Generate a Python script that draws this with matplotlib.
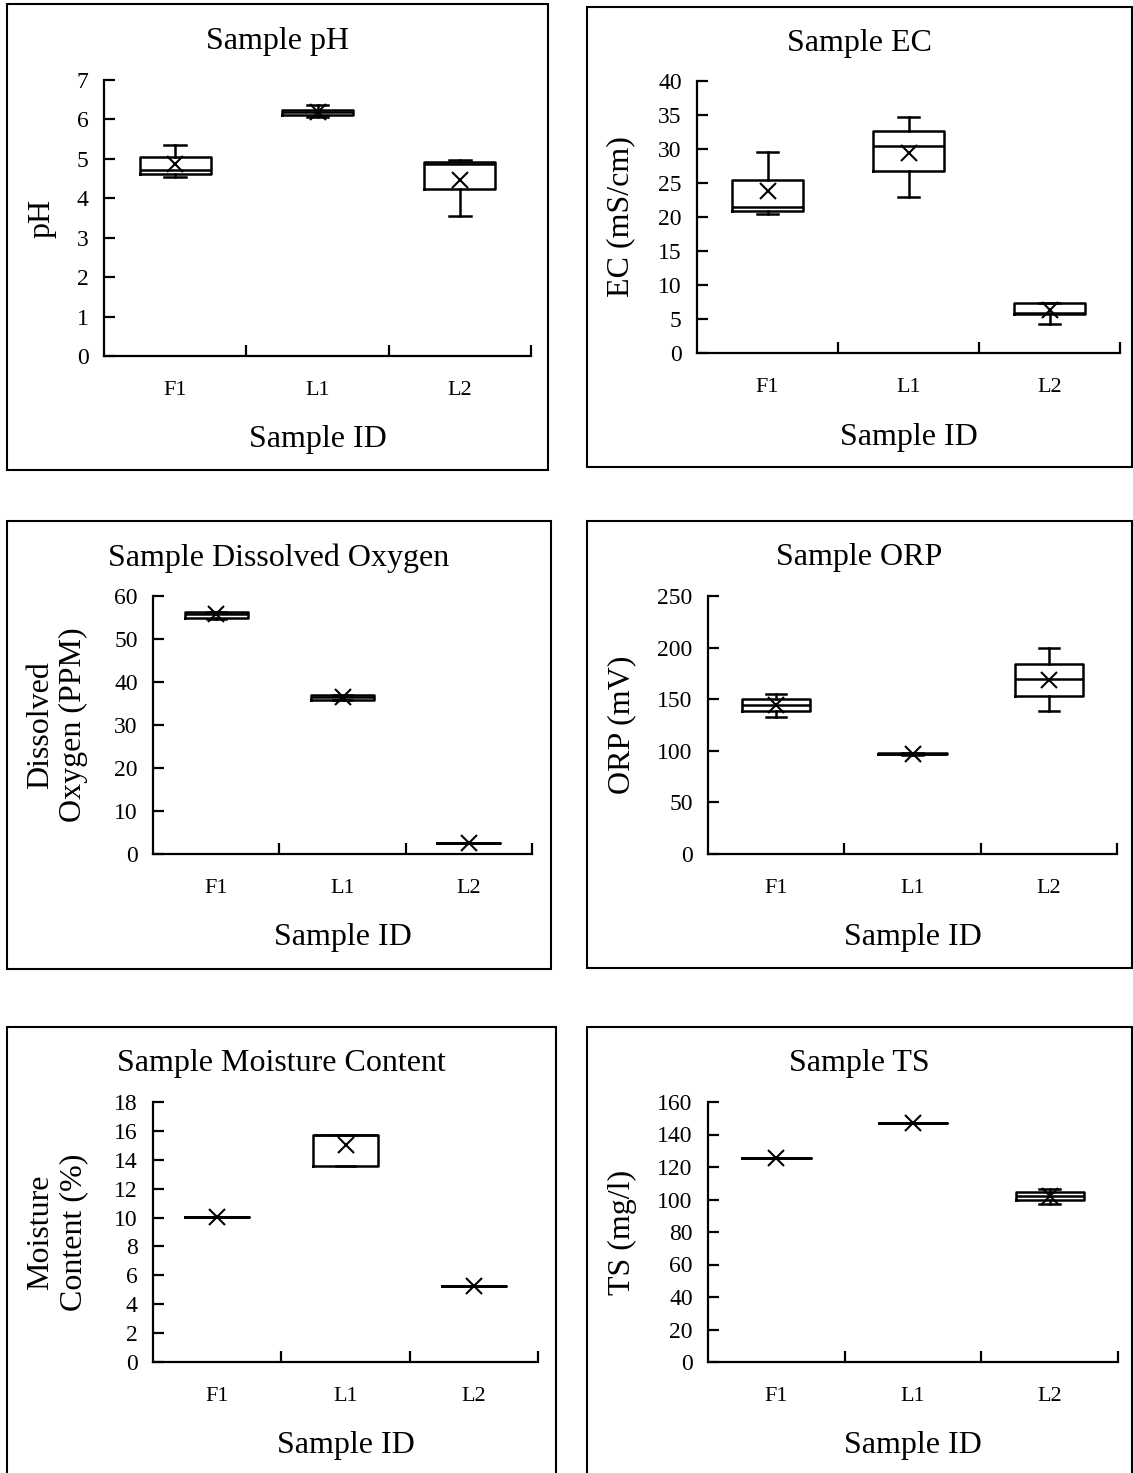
import matplotlib
matplotlib.use('Agg')
import matplotlib.pyplot as plt
from matplotlib.patches import Rectangle

plt.rcParams['font.family'] = ['Liberation Serif', 'DejaVu Serif']

samples = ['F1', 'L1', 'L2']

# five-number summaries + mean for each measurement, order F1, L1, L2
ph_min  = [4.54, 6.06, 3.56]
ph_q1   = [4.61, 6.11, 4.23]
ph_med  = [4.71, 6.19, 4.88]
ph_q3   = [5.04, 6.25, 4.93]
ph_max  = [5.36, 6.36, 4.96]
ph_mean = [4.87, 6.18, 4.46]

ec_min  = [20.5, 23.0, 4.2]
ec_q1   = [20.9, 26.7, 5.7]
ec_med  = [21.4, 30.4, 5.9]
ec_q3   = [25.4, 32.6, 7.3]
ec_max  = [29.5, 34.7, 7.4]
ec_mean = [23.8, 29.4, 6.3]

do_min  = [54.7, 35.8, 2.5]
do_q1   = [54.8, 35.9, 2.5]
do_med  = [55.9, 36.4, 2.5]
do_q3   = [56.2, 36.9, 2.5]
do_max  = [56.3, 37.0, 2.5]
do_mean = [55.7, 36.5, 2.5]

orp_min  = [133.1, 96.3, 138.9]
orp_q1   = [138.4, 96.6, 153.1]
orp_med  = [144.4, 97.0, 169.2]
orp_q3   = [150.3, 97.4, 184.0]
orp_max  = [155.1, 97.7, 199.2]
orp_mean = [144.4, 97.0, 169.0]

mc_min  = [10.05, 13.6, 5.29]
mc_q1   = [10.05, 13.6, 5.29]
mc_med  = [10.05, 15.7, 5.29]
mc_q3   = [10.05, 15.7, 5.29]
mc_max  = [10.05, 15.7, 5.29]
mc_mean = [10.05, 15.0, 5.29]

ts_min  = [125.8, 147.3, 97.0]
ts_q1   = [125.8, 147.3, 99.5]
ts_med  = [125.8, 147.3, 102.2]
ts_q3   = [125.8, 147.3, 104.6]
ts_max  = [125.8, 147.3, 106.7]
ts_mean = [125.8, 147.3, 102.0]

W, H = 1133, 1473
fig = plt.figure(figsize=(W / 100, H / 100), dpi=100)


def fx(x):
    return x / W


def fy(y):
    return 1 - y / H


def panel(frame, box, title, ylabel, ylab_x, ymax, ystep, lo, q1, med, q3, hi, mean):
    x0, y0, x1, y1 = frame
    fig.patches.append(Rectangle((fx(x0), fy(y1)), fx(x1 - x0), (y1 - y0) / H,
                                 transform=fig.transFigure, fill=False, lw=1.5, ec='black'))
    l, t, r, b = box
    ax = fig.add_axes([fx(l), fy(b), fx(r - l), (b - t) / H])

    stats = []
    for a, c, d, e, f, g, name in zip(lo, q1, med, q3, hi, mean, samples):
        stats.append(dict(whislo=a, q1=c, med=d, q3=e, whishi=f, mean=g, fliers=[], label=name))
    line = dict(color='black', lw=1.8)
    ax.bxp(stats, positions=[1, 2, 3], widths=0.5, capwidths=0.15, showmeans=True,
           boxprops=line, whiskerprops=line, capprops=line, medianprops=line,
           meanprops=dict(marker='x', markeredgecolor='black', markersize=11, markeredgewidth=1.5))

    ax.set_xlim(0.5, 3.5)
    ax.set_ylim(0, ymax)
    ax.set_yticks([ystep * i for i in range(int(round(ymax / ystep)) + 1)])
    ax.set_xticks([1, 2, 3])
    ax.set_xticklabels(samples)
    ax.set_xticks([1.5, 2.5, 3.5], minor=True)
    for s in ['top', 'right']:
        ax.spines[s].set_visible(False)
    for s in ['left', 'bottom']:
        ax.spines[s].set_linewidth(1.6)
    ax.tick_params(axis='y', direction='in', length=8, width=1.6, labelsize=17, pad=11)
    ax.tick_params(axis='x', which='major', length=0, labelsize=16, pad=18)
    ax.tick_params(axis='x', which='minor', direction='in', length=8, width=1.6)

    fig.text(fx((x0 + x1) / 2), fy(y0 + 37), title, ha='center', va='center', fontsize=23)
    fig.text(fx((l + r) / 2), fy(b + 84), 'Sample ID', ha='center', va='center', fontsize=23)
    fig.text(fx(ylab_x), fy((t + b) / 2), ylabel, ha='center', va='center', rotation=90,
             fontsize=23, multialignment='center', linespacing=1.2)
    return ax


panel((7, 4, 548, 470), (104, 80, 531, 356), 'Sample pH', 'pH', 42, 7, 1,
      ph_min, ph_q1, ph_med, ph_q3, ph_max, ph_mean)
panel((587, 7, 1132, 467), (697, 81, 1120, 353), 'Sample EC', 'EC (mS/cm)', 621, 40, 5,
      ec_min, ec_q1, ec_med, ec_q3, ec_max, ec_mean)
panel((7, 521, 551, 969), (153, 596, 532, 854), 'Sample Dissolved Oxygen',
      'Dissolved\nOxygen (PPM)', 57, 60, 10,
      do_min, do_q1, do_med, do_q3, do_max, do_mean)
panel((587, 521, 1132, 968), (708, 596, 1117, 854), 'Sample ORP', 'ORP (mV)', 622, 250, 50,
      orp_min, orp_q1, orp_med, orp_q3, orp_max, orp_mean)
panel((7, 1027, 556, 1480), (153, 1102, 538, 1362), 'Sample Moisture Content',
      'Moisture\nContent (%)', 57, 18, 2,
      mc_min, mc_q1, mc_med, mc_q3, mc_max, mc_mean)
panel((587, 1027, 1132, 1480), (708, 1102, 1118, 1362), 'Sample TS', 'TS (mg/l)', 622, 160, 20,
      ts_min, ts_q1, ts_med, ts_q3, ts_max, ts_mean)

fig.savefig('out.png', dpi=100)
